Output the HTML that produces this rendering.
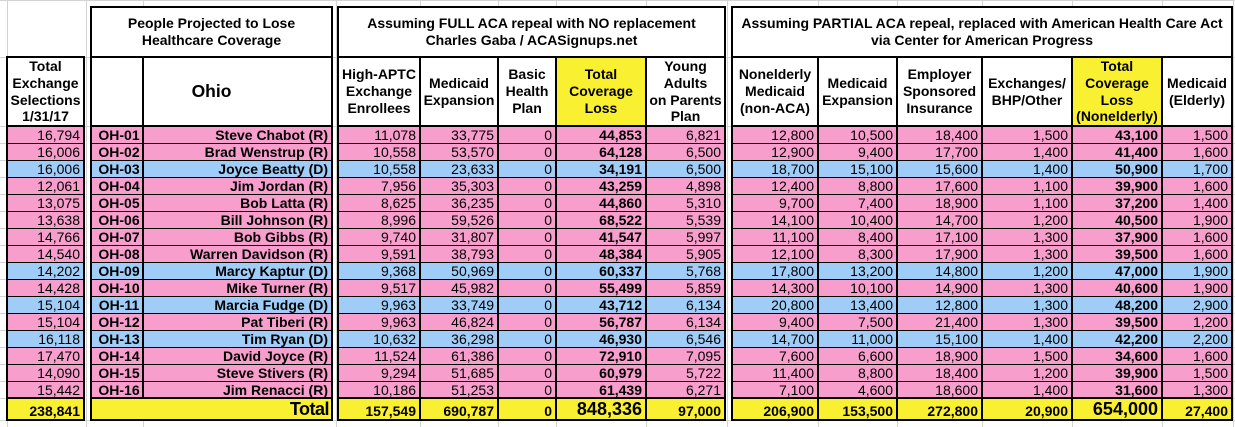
<!DOCTYPE html>
<html><head><meta charset="utf-8"><style>
*{margin:0;padding:0}
body{width:1235px;height:427px;overflow:hidden;position:relative;background:#fff;font-family:"Liberation Sans",Arial,sans-serif;font-size:14px;color:#000}
.grid{position:absolute;left:0;top:0}
.wf{position:absolute;background:#fff}
.r{position:absolute;left:8px;width:1225px;height:17px;box-sizing:border-box;border-bottom:1px solid #000}
.pk{background:#f79ecd}
.bl{background:#9fcdf7}
.yl{background:#faf032}
.r span{position:absolute;top:0;height:16px;line-height:17px;text-align:right;padding-right:3px;box-sizing:border-box;white-space:nowrap}
.r .ca{left:0;width:75px}
.r .cb{left:84px;width:50px;text-align:center;padding-right:0;padding-left:4px;font-weight:bold}
.r .cn{left:136px;width:187px;font-weight:bold}
.r .d1{left:331px;width:80px}
.r .d2{left:413px;width:76px}
.r .d3{left:491px;width:56px}
.r .d4{left:549px;width:88px;font-weight:bold}
.r .d5{left:639px;width:77px}
.r .e1{left:725px;width:84px}
.r .e2{left:811px;width:77px}
.r .e3{left:890px;width:83px}
.r .e4{left:975px;width:88px}
.r .e5{left:1065px;width:88px;font-weight:bold}
.r .e6{left:1155px;width:68px}
.tot{height:20px;border-bottom:none}
.tot span{height:20px;line-height:20px;padding-top:2px;font-weight:bold}
.tot span.big{font-size:18px;padding-top:0}
.tot span.tt{left:84px;width:239px;font-size:18px;padding-top:0;letter-spacing:-0.5px;padding-right:2px}
.gap{position:absolute;top:127px;height:292px;background:#fff}
.hd{position:absolute;display:flex;align-items:center;justify-content:center;text-align:center;font-weight:bold;line-height:16.7px;white-space:nowrap}
.h1{top:8px;height:48px}
.h2{top:58px;height:67px}
.v{position:absolute;width:2px;background:#000;top:58px;height:361px}
.hl{position:absolute;height:2px;background:#000}
.box{position:absolute;border:2px solid #000;box-sizing:border-box}
</style></head><body>
<svg class="grid" width="1235" height="427" xmlns="http://www.w3.org/2000/svg" shape-rendering="crispEdges">
<g stroke="#d3d3d3" stroke-width="1">
<line x1="7.5" y1="0" x2="7.5" y2="427"/>
<line x1="86.5" y1="0" x2="86.5" y2="427"/>
<line x1="143.5" y1="0" x2="143.5" y2="427"/>
<line x1="336.5" y1="0" x2="336.5" y2="427"/>
<line x1="420.5" y1="0" x2="420.5" y2="427"/>
<line x1="498.5" y1="0" x2="498.5" y2="427"/>
<line x1="556.5" y1="0" x2="556.5" y2="427"/>
<line x1="646.5" y1="0" x2="646.5" y2="427"/>
<line x1="727.5" y1="0" x2="727.5" y2="427"/>
<line x1="818.5" y1="0" x2="818.5" y2="427"/>
<line x1="897.5" y1="0" x2="897.5" y2="427"/>
<line x1="982.5" y1="0" x2="982.5" y2="427"/>
<line x1="1072.5" y1="0" x2="1072.5" y2="427"/>
<line x1="1162.5" y1="0" x2="1162.5" y2="427"/>
<line x1="1233.5" y1="0" x2="1233.5" y2="427"/>
<line x1="0" y1="0.5" x2="1235" y2="0.5"/>
<line x1="0" y1="57.5" x2="1235" y2="57.5"/>
<line x1="0" y1="126.5" x2="1235" y2="126.5"/>
<line x1="0" y1="143.5" x2="1235" y2="143.5"/>
<line x1="0" y1="160.5" x2="1235" y2="160.5"/>
<line x1="0" y1="177.5" x2="1235" y2="177.5"/>
<line x1="0" y1="194.5" x2="1235" y2="194.5"/>
<line x1="0" y1="211.5" x2="1235" y2="211.5"/>
<line x1="0" y1="228.5" x2="1235" y2="228.5"/>
<line x1="0" y1="245.5" x2="1235" y2="245.5"/>
<line x1="0" y1="262.5" x2="1235" y2="262.5"/>
<line x1="0" y1="279.5" x2="1235" y2="279.5"/>
<line x1="0" y1="296.5" x2="1235" y2="296.5"/>
<line x1="0" y1="313.5" x2="1235" y2="313.5"/>
<line x1="0" y1="330.5" x2="1235" y2="330.5"/>
<line x1="0" y1="347.5" x2="1235" y2="347.5"/>
<line x1="0" y1="364.5" x2="1235" y2="364.5"/>
<line x1="0" y1="381.5" x2="1235" y2="381.5"/>
<line x1="0" y1="398.5" x2="1235" y2="398.5"/>
<line x1="0" y1="420.5" x2="1235" y2="420.5"/>
</g></svg>

<div class="wf" style="left:6px;top:56px;width:79px;height:365px"></div>
<div class="wf" style="left:90px;top:6px;width:243px;height:415px"></div>
<div class="wf" style="left:337px;top:6px;width:389px;height:415px"></div>
<div class="wf" style="left:731px;top:6px;width:502px;height:415px"></div>

<div class="r pk" style="top:127px"><span class="ca">16,794</span><span class="cb">OH-01</span><span class="cn">Steve Chabot (R)</span><span class="d1">11,078</span><span class="d2">33,775</span><span class="d3">0</span><span class="d4">44,853</span><span class="d5">6,821</span><span class="e1">12,800</span><span class="e2">10,500</span><span class="e3">18,400</span><span class="e4">1,500</span><span class="e5">43,100</span><span class="e6">1,500</span></div>
<div class="r pk" style="top:144px"><span class="ca">16,006</span><span class="cb">OH-02</span><span class="cn">Brad Wenstrup (R)</span><span class="d1">10,558</span><span class="d2">53,570</span><span class="d3">0</span><span class="d4">64,128</span><span class="d5">6,500</span><span class="e1">12,900</span><span class="e2">9,400</span><span class="e3">17,700</span><span class="e4">1,400</span><span class="e5">41,400</span><span class="e6">1,600</span></div>
<div class="r bl" style="top:161px"><span class="ca">16,006</span><span class="cb">OH-03</span><span class="cn">Joyce Beatty (D)</span><span class="d1">10,558</span><span class="d2">23,633</span><span class="d3">0</span><span class="d4">34,191</span><span class="d5">6,500</span><span class="e1">18,700</span><span class="e2">15,100</span><span class="e3">15,600</span><span class="e4">1,400</span><span class="e5">50,900</span><span class="e6">1,700</span></div>
<div class="r pk" style="top:178px"><span class="ca">12,061</span><span class="cb">OH-04</span><span class="cn">Jim Jordan (R)</span><span class="d1">7,956</span><span class="d2">35,303</span><span class="d3">0</span><span class="d4">43,259</span><span class="d5">4,898</span><span class="e1">12,400</span><span class="e2">8,800</span><span class="e3">17,600</span><span class="e4">1,100</span><span class="e5">39,900</span><span class="e6">1,600</span></div>
<div class="r pk" style="top:195px"><span class="ca">13,075</span><span class="cb">OH-05</span><span class="cn">Bob Latta (R)</span><span class="d1">8,625</span><span class="d2">36,235</span><span class="d3">0</span><span class="d4">44,860</span><span class="d5">5,310</span><span class="e1">9,700</span><span class="e2">7,400</span><span class="e3">18,900</span><span class="e4">1,100</span><span class="e5">37,200</span><span class="e6">1,400</span></div>
<div class="r pk" style="top:212px"><span class="ca">13,638</span><span class="cb">OH-06</span><span class="cn">Bill Johnson (R)</span><span class="d1">8,996</span><span class="d2">59,526</span><span class="d3">0</span><span class="d4">68,522</span><span class="d5">5,539</span><span class="e1">14,100</span><span class="e2">10,400</span><span class="e3">14,700</span><span class="e4">1,200</span><span class="e5">40,500</span><span class="e6">1,900</span></div>
<div class="r pk" style="top:229px"><span class="ca">14,766</span><span class="cb">OH-07</span><span class="cn">Bob Gibbs (R)</span><span class="d1">9,740</span><span class="d2">31,807</span><span class="d3">0</span><span class="d4">41,547</span><span class="d5">5,997</span><span class="e1">11,100</span><span class="e2">8,400</span><span class="e3">17,100</span><span class="e4">1,300</span><span class="e5">37,900</span><span class="e6">1,600</span></div>
<div class="r pk" style="top:246px"><span class="ca">14,540</span><span class="cb">OH-08</span><span class="cn">Warren Davidson (R)</span><span class="d1">9,591</span><span class="d2">38,793</span><span class="d3">0</span><span class="d4">48,384</span><span class="d5">5,905</span><span class="e1">12,100</span><span class="e2">8,300</span><span class="e3">17,900</span><span class="e4">1,300</span><span class="e5">39,500</span><span class="e6">1,600</span></div>
<div class="r bl" style="top:263px"><span class="ca">14,202</span><span class="cb">OH-09</span><span class="cn">Marcy Kaptur (D)</span><span class="d1">9,368</span><span class="d2">50,969</span><span class="d3">0</span><span class="d4">60,337</span><span class="d5">5,768</span><span class="e1">17,800</span><span class="e2">13,200</span><span class="e3">14,800</span><span class="e4">1,200</span><span class="e5">47,000</span><span class="e6">1,900</span></div>
<div class="r pk" style="top:280px"><span class="ca">14,428</span><span class="cb">OH-10</span><span class="cn">Mike Turner (R)</span><span class="d1">9,517</span><span class="d2">45,982</span><span class="d3">0</span><span class="d4">55,499</span><span class="d5">5,859</span><span class="e1">14,300</span><span class="e2">10,100</span><span class="e3">14,900</span><span class="e4">1,300</span><span class="e5">40,600</span><span class="e6">1,900</span></div>
<div class="r bl" style="top:297px"><span class="ca">15,104</span><span class="cb">OH-11</span><span class="cn">Marcia Fudge (D)</span><span class="d1">9,963</span><span class="d2">33,749</span><span class="d3">0</span><span class="d4">43,712</span><span class="d5">6,134</span><span class="e1">20,800</span><span class="e2">13,400</span><span class="e3">12,800</span><span class="e4">1,300</span><span class="e5">48,200</span><span class="e6">2,900</span></div>
<div class="r pk" style="top:314px"><span class="ca">15,104</span><span class="cb">OH-12</span><span class="cn">Pat Tiberi (R)</span><span class="d1">9,963</span><span class="d2">46,824</span><span class="d3">0</span><span class="d4">56,787</span><span class="d5">6,134</span><span class="e1">9,400</span><span class="e2">7,500</span><span class="e3">21,400</span><span class="e4">1,300</span><span class="e5">39,500</span><span class="e6">1,200</span></div>
<div class="r bl" style="top:331px"><span class="ca">16,118</span><span class="cb">OH-13</span><span class="cn">Tim Ryan (D)</span><span class="d1">10,632</span><span class="d2">36,298</span><span class="d3">0</span><span class="d4">46,930</span><span class="d5">6,546</span><span class="e1">14,700</span><span class="e2">11,000</span><span class="e3">15,100</span><span class="e4">1,400</span><span class="e5">42,200</span><span class="e6">2,200</span></div>
<div class="r pk" style="top:348px"><span class="ca">17,470</span><span class="cb">OH-14</span><span class="cn">David Joyce (R)</span><span class="d1">11,524</span><span class="d2">61,386</span><span class="d3">0</span><span class="d4">72,910</span><span class="d5">7,095</span><span class="e1">7,600</span><span class="e2">6,600</span><span class="e3">18,900</span><span class="e4">1,500</span><span class="e5">34,600</span><span class="e6">1,600</span></div>
<div class="r pk" style="top:365px"><span class="ca">14,090</span><span class="cb">OH-15</span><span class="cn">Steve Stivers (R)</span><span class="d1">9,294</span><span class="d2">51,685</span><span class="d3">0</span><span class="d4">60,979</span><span class="d5">5,722</span><span class="e1">11,400</span><span class="e2">8,800</span><span class="e3">18,400</span><span class="e4">1,200</span><span class="e5">39,900</span><span class="e6">1,500</span></div>
<div class="r pk" style="top:382px"><span class="ca">15,442</span><span class="cb">OH-16</span><span class="cn">Jim Renacci (R)</span><span class="d1">10,186</span><span class="d2">51,253</span><span class="d3">0</span><span class="d4">61,439</span><span class="d5">6,271</span><span class="e1">7,100</span><span class="e2">4,600</span><span class="e3">18,600</span><span class="e4">1,400</span><span class="e5">31,600</span><span class="e6">1,300</span></div>
<div class="r yl tot" style="top:399px"><span class="ca">238,841</span><span class="tt">Total</span><span class="d1">157,549</span><span class="d2">690,787</span><span class="d3">0</span><span class="d4 big">848,336</span><span class="d5">97,000</span><span class="e1">206,900</span><span class="e2">153,500</span><span class="e3">272,800</span><span class="e4">20,900</span><span class="e5 big">654,000</span><span class="e6">27,400</span></div>

<div class="gap" style="left:85px;width:5px;background:linear-gradient(to right,#fff 1px,#d3d3d3 1px,#d3d3d3 2px,#fff 2px)"></div>
<div class="gap" style="left:333px;width:4px;background:linear-gradient(to right,#fff 3px,#d3d3d3 3px)"></div>
<div class="gap" style="left:726px;width:5px;background:linear-gradient(to right,#fff 1px,#d3d3d3 1px,#d3d3d3 2px,#fff 2px)"></div>

<div class="hd h1" style="left:92px;width:239px">People Projected to Lose<br>Healthcare Coverage</div>
<div class="hd h1" style="left:339px;width:385px">Assuming FULL ACA repeal with NO replacement<br>Charles Gaba / ACASignups.net</div>
<div class="hd h1" style="left:733px;width:498px">Assuming PARTIAL ACA repeal, replaced with American Health Care Act<br>via Center for American Progress</div>

<div class="hd h2" style="left:8px;width:75px">Total<br>Exchange<br>Selections<br>1/31/17</div>
<div class="hd h2" style="left:92px;width:239px;font-size:17.5px">Ohio</div>
<div class="hd h2" style="left:339px;width:80px">High-APTC<br>Exchange<br>Enrollees</div>
<div class="hd h2" style="left:421px;width:76px">Medicaid<br>Expansion</div>
<div class="hd h2" style="left:499px;width:56px">Basic<br>Health<br>Plan</div>
<div class="hd h2" style="left:557px;width:88px;background:#faf032">Total<br>Coverage<br>Loss</div>
<div class="hd h2" style="left:647px;width:77px">Young<br>Adults<br>on Parents<br>Plan</div>
<div class="hd h2" style="left:733px;width:84px">Nonelderly<br>Medicaid<br>(non-ACA)</div>
<div class="hd h2" style="left:819px;width:77px">Medicaid<br>Expansion</div>
<div class="hd h2" style="left:898px;width:83px">Employer<br>Sponsored<br>Insurance</div>
<div class="hd h2" style="left:983px;width:88px">Exchanges/<br>BHP/Other</div>
<div class="hd h2" style="left:1073px;width:88px;background:#faf032">Total<br>Coverage<br>Loss<br>(Nonelderly)</div>
<div class="hd h2" style="left:1163px;width:68px">Medicaid<br>(Elderly)</div>

<div class="v" style="left:142px;height:339px"></div>
<div class="v" style="left:419px"></div>
<div class="v" style="left:497px"></div>
<div class="v" style="left:555px"></div>
<div class="v" style="left:645px"></div>
<div class="v" style="left:817px"></div>
<div class="v" style="left:896px"></div>
<div class="v" style="left:981px"></div>
<div class="v" style="left:1071px"></div>
<div class="v" style="left:1161px"></div>

<div class="hl" style="top:56px;left:90px;width:243px"></div>
<div class="hl" style="top:56px;left:337px;width:389px"></div>
<div class="hl" style="top:56px;left:731px;width:502px"></div>
<div class="hl" style="top:125px;left:6px;width:79px"></div>
<div class="hl" style="top:125px;left:90px;width:243px"></div>
<div class="hl" style="top:125px;left:337px;width:389px"></div>
<div class="hl" style="top:125px;left:731px;width:502px"></div>
<div class="hl" style="top:397px;left:6px;width:79px"></div>
<div class="hl" style="top:397px;left:90px;width:243px"></div>
<div class="hl" style="top:397px;left:337px;width:389px"></div>
<div class="hl" style="top:397px;left:731px;width:502px"></div>

<div class="box" style="left:6px;top:56px;width:79px;height:365px"></div>
<div class="box" style="left:90px;top:6px;width:243px;height:415px"></div>
<div class="box" style="left:337px;top:6px;width:389px;height:415px"></div>
<div class="box" style="left:731px;top:6px;width:502px;height:415px"></div>
</body></html>
